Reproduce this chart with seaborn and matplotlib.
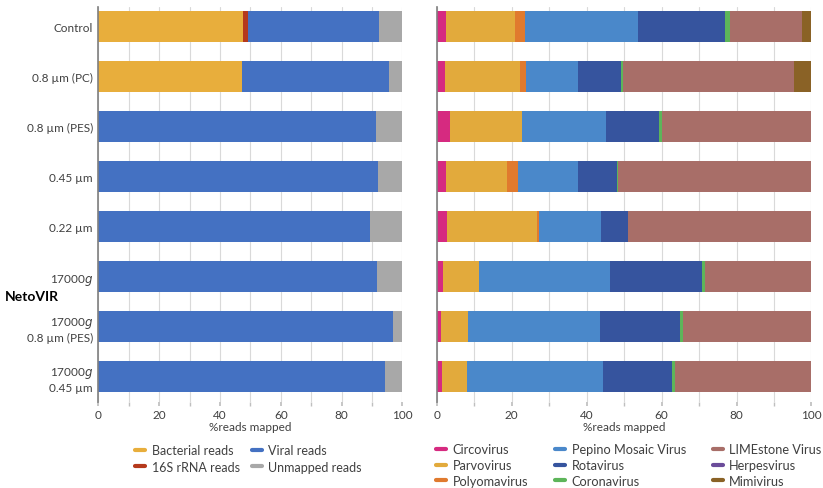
import numpy as np
import pandas as pd
import matplotlib
matplotlib.use("Agg")
import matplotlib.pyplot as plt
from matplotlib.lines import Line2D
import seaborn as sns

# Samples (rows, top to bottom)
samples = ["Control", "0.8 µm (PC)", "0.8 µm (PES)", "0.45 µm", "0.22 µm",
           "17000$g$", "17000$g$\n0.8 µm (PES)", "17000$g$\n0.45 µm"]

# Left panel: read classes (% of reads)
read_classes = ["Bacterial reads", "16S rRNA reads", "Viral reads", "Unmapped reads"]
bacterial = [47.5, 47.4, 0, 0, 0, 0, 0, 0]
rrna16s = [1.8, 0, 0, 0, 0, 0, 0, 0]
viral = [43.1, 48.3, 91.3, 91.9, 89.4, 91.6, 97.0, 94.3]
unmapped = [7.6, 4.3, 8.7, 8.1, 10.6, 8.4, 3.0, 5.7]
read_colors = ["#E8AE3C", "#B5391C", "#4471C2", "#A8A8A8"]

# Right panel: viral families (% of viral reads)
viruses = ["Circovirus", "Parvovirus", "Polyomavirus", "Pepino Mosaic Virus",
           "Rotavirus", "Coronavirus", "LIMEstone Virus", "Herpesvirus", "Mimivirus"]
circovirus = [2.4, 2.2, 3.7, 2.6, 2.8, 1.8, 1.2, 1.5]
parvovirus = [18.4, 20.0, 19.2, 16.1, 24.0, 9.6, 7.3, 6.6]
polyomavirus = [2.8, 1.6, 0.0, 3.0, 0.6, 0.0, 0.0, 0.0]
pepino = [30.0, 13.9, 22.2, 15.9, 16.4, 34.9, 35.0, 36.2]
rotavirus = [23.4, 11.6, 14.1, 10.5, 7.3, 24.6, 21.3, 18.6]
coronavirus = [1.3, 0.3, 1.0, 0.2, 0.0, 0.8, 0.8, 0.7]
limestone = [19.3, 45.8, 39.8, 51.7, 48.9, 28.3, 34.4, 36.4]
herpesvirus = [0.0, 0.0, 0.0, 0.0, 0.0, 0.0, 0.0, 0.0]
mimivirus = [2.4, 4.6, 0.0, 0.0, 0.0, 0.0, 0.0, 0.0]
virus_colors = ["#D62A80", "#E2AA3C", "#E07A2E", "#4A88CA", "#36549E",
                "#5DB55A", "#A86E68", "#6B4C9A", "#8A6226"]

read_table = pd.DataFrame(dict(zip(read_classes, [bacterial, rrna16s, viral, unmapped])),
                          index=samples)
virus_table = pd.DataFrame(dict(zip(viruses, [circovirus, parvovirus, polyomavirus, pepino,
                                              rotavirus, coronavirus, limestone,
                                              herpesvirus, mimivirus])), index=samples)

sns.set_theme(style="white")
plt.rcParams["font.family"] = ["Lato", "DejaVu Sans"]
text_col = "#404040"

fig = plt.figure(figsize=(8.23, 4.89), dpi=100)
ax_l = fig.add_axes([0.1195, 0.176, 0.3695, 0.808])
ax_r = fig.add_axes([0.5305, 0.176, 0.4555, 0.808])


def stacked(ax, table, colors, show_labels):
    cum = table.cumsum(axis=1)
    cols = list(table.columns)
    # draw the longest cumulative segment first so shorter ones sit on top
    for col, color in reversed(list(zip(cols, colors))):
        df = pd.DataFrame({"sample": samples, "value": cum[col].values})
        sns.barplot(data=df, x="value", y="sample", orient="h", color=color,
                    width=0.62, saturation=1, ax=ax, edgecolor="none", linewidth=0)
    ax.set_xlim(0, 100)
    ax.set_ylim(7.5, -0.4)
    ax.set_xticks(np.arange(0, 101, 20))
    ax.set_xticks(np.arange(0, 101, 10), minor=True)
    ax.grid(axis="x", which="both", color="#D9D9D9", linewidth=0.8, zorder=0)
    ax.set_axisbelow(True)
    for s in ["top", "right", "bottom"]:
        ax.spines[s].set_visible(False)
    ax.spines["left"].set_color("#7F7F7F")
    ax.spines["left"].set_linewidth(1.2)
    ax.tick_params(axis="x", which="both", length=3, color="#BFBFBF",
                   labelsize=8.5, labelcolor=text_col, pad=2, bottom=True)
    ax.tick_params(axis="y", length=0, labelsize=8.5, labelcolor=text_col, pad=4)
    ax.set_xlabel("%reads mapped", fontsize=8.5, color=text_col, labelpad=1)
    ax.set_ylabel("")
    if not show_labels:
        ax.set_yticklabels([])
    else:
        for t in ax.get_yticklabels():
            t.set_multialignment("right")


stacked(ax_l, read_table, read_colors, True)
stacked(ax_r, virus_table, virus_colors, False)

fig.text(0.006, 0.392, "NetoVIR", fontsize=10, fontweight="bold", color="black",
         va="center", ha="left")

# Legends
left_order = ["Bacterial reads", "16S rRNA reads", "Viral reads", "Unmapped reads"]
lh = [Line2D([], [], color=read_colors[read_classes.index(n)], lw=3) for n in left_order]
fig.legend(lh, left_order, ncol=2, loc="upper center", bbox_to_anchor=(0.302, 0.112),
           frameon=False, fontsize=9, handlelength=0.8, handletextpad=0.5,
           columnspacing=1.0, labelspacing=0.35, labelcolor=text_col)

rh = [Line2D([], [], color=c, lw=3) for c in virus_colors]
fig.legend(rh, viruses, ncol=3, loc="upper center", bbox_to_anchor=(0.764, 0.115),
           frameon=False, fontsize=9.2, handlelength=0.8, handletextpad=0.5,
           columnspacing=2.1, labelspacing=0.3, labelcolor=text_col)

fig.savefig("out.png", dpi=100)
